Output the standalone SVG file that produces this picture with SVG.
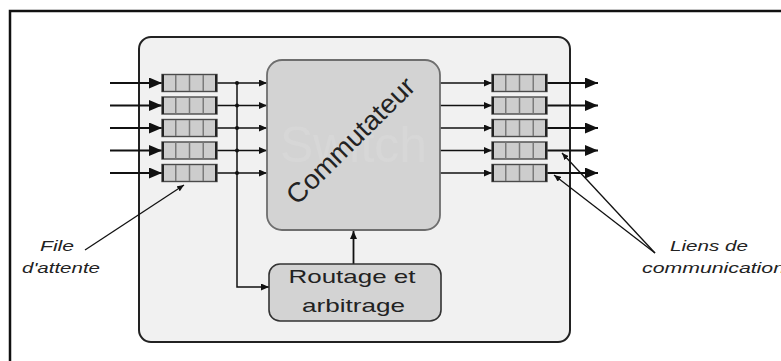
<svg xmlns="http://www.w3.org/2000/svg" width="781" height="361" viewBox="0 0 781 361">
<style>
.frame{fill:none;stroke:#111;stroke-width:2.5}
.inner{fill:#f1f1f1;stroke:#222;stroke-width:2}
.q{fill:#cdcdcd;stroke:#4a4a4a;stroke-width:1.4}
.qd{stroke:#7a7a7a;stroke-width:1.5}
.qe{stroke:#222;stroke-width:2}
.big{stroke:#111;stroke-width:2;fill:none}
.thin{stroke:#111;stroke-width:1.3;fill:none}
.box{fill:#d3d3d3;stroke:#6e6e6e;stroke-width:1.8}
.box2{fill:#d3d3d3;stroke:#333;stroke-width:1.6}
.lbl{font-family:"Liberation Sans",Arial,sans-serif;font-style:italic;font-size:15.5px;fill:#222}
.t{font-family:"Liberation Sans",Arial,sans-serif;fill:#222}
</style>
<defs>
<marker id="ab" markerUnits="userSpaceOnUse" markerWidth="13" markerHeight="11" refX="13" refY="5.5" orient="auto"><path d="M0,0 L13,5.5 L0,11 z" fill="#111"/></marker>
<marker id="as" markerUnits="userSpaceOnUse" markerWidth="8" markerHeight="7" refX="8" refY="3.5" orient="auto"><path d="M0,0 L8,3.5 L0,7 z" fill="#111"/></marker>
<marker id="at" markerUnits="userSpaceOnUse" markerWidth="7" markerHeight="6" refX="7" refY="3" orient="auto"><path d="M0,0 L7,3 L0,6 z" fill="#111"/></marker>
<g id="queue">
<rect class="q" x="0" y="-8.5" width="55" height="17"/>
<line class="qd" x1="13.75" y1="-8" x2="13.75" y2="8"/>
<line class="qd" x1="27.5" y1="-8" x2="27.5" y2="8"/>
<line class="qd" x1="41.25" y1="-8" x2="41.25" y2="8"/>
<line class="qe" x1="1" y1="-8.5" x2="1" y2="8.5"/>
<line class="qe" x1="54" y1="-8.5" x2="54" y2="8.5"/>
</g>
</defs>
<rect width="781" height="361" fill="#fff"/>
<path class="frame" d="M10,361 L10,11 L781,11"/>
<g id="switch-frame"><rect class="inner" x="139" y="37" width="431" height="305" rx="12"/></g>

<g id="connectors">
<g class="big" marker-end="url(#ab)">
<line x1="110" y1="83" x2="162" y2="83"/>
<line x1="110" y1="105.5" x2="162" y2="105.5"/>
<line x1="110" y1="128" x2="162" y2="128"/>
<line x1="110" y1="150.5" x2="162" y2="150.5"/>
<line x1="110" y1="173" x2="162" y2="173"/>
<line x1="547" y1="83" x2="598" y2="83"/>
<line x1="547" y1="105.5" x2="598" y2="105.5"/>
<line x1="547" y1="128" x2="598" y2="128"/>
<line x1="547" y1="150.5" x2="598" y2="150.5"/>
<line x1="547" y1="173" x2="598" y2="173"/>
</g>
<g class="thin" marker-end="url(#as)">
<line x1="217" y1="83" x2="267" y2="83"/>
<line x1="217" y1="105.5" x2="267" y2="105.5"/>
<line x1="217" y1="128" x2="267" y2="128"/>
<line x1="217" y1="150.5" x2="267" y2="150.5"/>
<line x1="217" y1="173" x2="267" y2="173"/>
<line x1="440" y1="83" x2="492" y2="83"/>
<line x1="440" y1="105.5" x2="492" y2="105.5"/>
<line x1="440" y1="128" x2="492" y2="128"/>
<line x1="440" y1="150.5" x2="492" y2="150.5"/>
<line x1="440" y1="173" x2="492" y2="173"/>
<path d="M237,83 L237,287 L269,287" style="stroke-width:1.5"/>
<line x1="353.5" y1="264" x2="353.5" y2="231" style="stroke-width:1.8"/>
</g>
<g fill="#111">
<circle cx="237" cy="83" r="2"/>
<circle cx="237" cy="105.5" r="2"/>
<circle cx="237" cy="128" r="2"/>
<circle cx="237" cy="150.5" r="2"/>
<circle cx="237" cy="173" r="2"/>
</g>
<g class="thin" marker-end="url(#at)">
<line x1="85" y1="250" x2="184" y2="185"/>
<line x1="655" y1="253" x2="562" y2="153"/>
<line x1="655" y1="253" x2="554" y2="175"/>
</g>
</g>

<g id="queues-in">
<use href="#queue" x="162" y="83"/>
<use href="#queue" x="162" y="105.5"/>
<use href="#queue" x="162" y="128"/>
<use href="#queue" x="162" y="150.5"/>
<use href="#queue" x="162" y="173"/>
</g>
<g id="queues-out">
<use href="#queue" x="492" y="83"/>
<use href="#queue" x="492" y="105.5"/>
<use href="#queue" x="492" y="128"/>
<use href="#queue" x="492" y="150.5"/>
<use href="#queue" x="492" y="173"/>
</g>

<g id="commutateur">
<rect class="box" x="267" y="60" width="173" height="170" rx="15"/>
<text class="t" x="280" y="162" font-size="50" style="fill:#d7d7d7" textLength="147" lengthAdjust="spacingAndGlyphs">Switch</text>
<text class="t" transform="translate(350,140) rotate(-44.5)" x="0" y="10" font-size="27" text-anchor="middle" textLength="168" lengthAdjust="spacingAndGlyphs">Commutateur</text>
</g>

<g id="routage">
<rect class="box2" x="269" y="264" width="172" height="57" rx="11"/>
<text class="t" x="352" y="283" font-size="19" text-anchor="middle" textLength="127" lengthAdjust="spacingAndGlyphs">Routage et</text>
<text class="t" x="353.5" y="312" font-size="19" text-anchor="middle" textLength="103" lengthAdjust="spacingAndGlyphs">arbitrage</text>
</g>

<g id="label-file">
<text class="lbl" x="40" y="251" textLength="34" lengthAdjust="spacingAndGlyphs">File</text>
<text class="lbl" x="22" y="273" textLength="78" lengthAdjust="spacingAndGlyphs">d'attente</text>
</g>
<g id="label-liens">
<text class="lbl" x="670" y="251" textLength="78" lengthAdjust="spacingAndGlyphs">Liens de</text>
<text class="lbl" x="642" y="273" textLength="143" lengthAdjust="spacingAndGlyphs">communication</text>
</g>
</svg>
